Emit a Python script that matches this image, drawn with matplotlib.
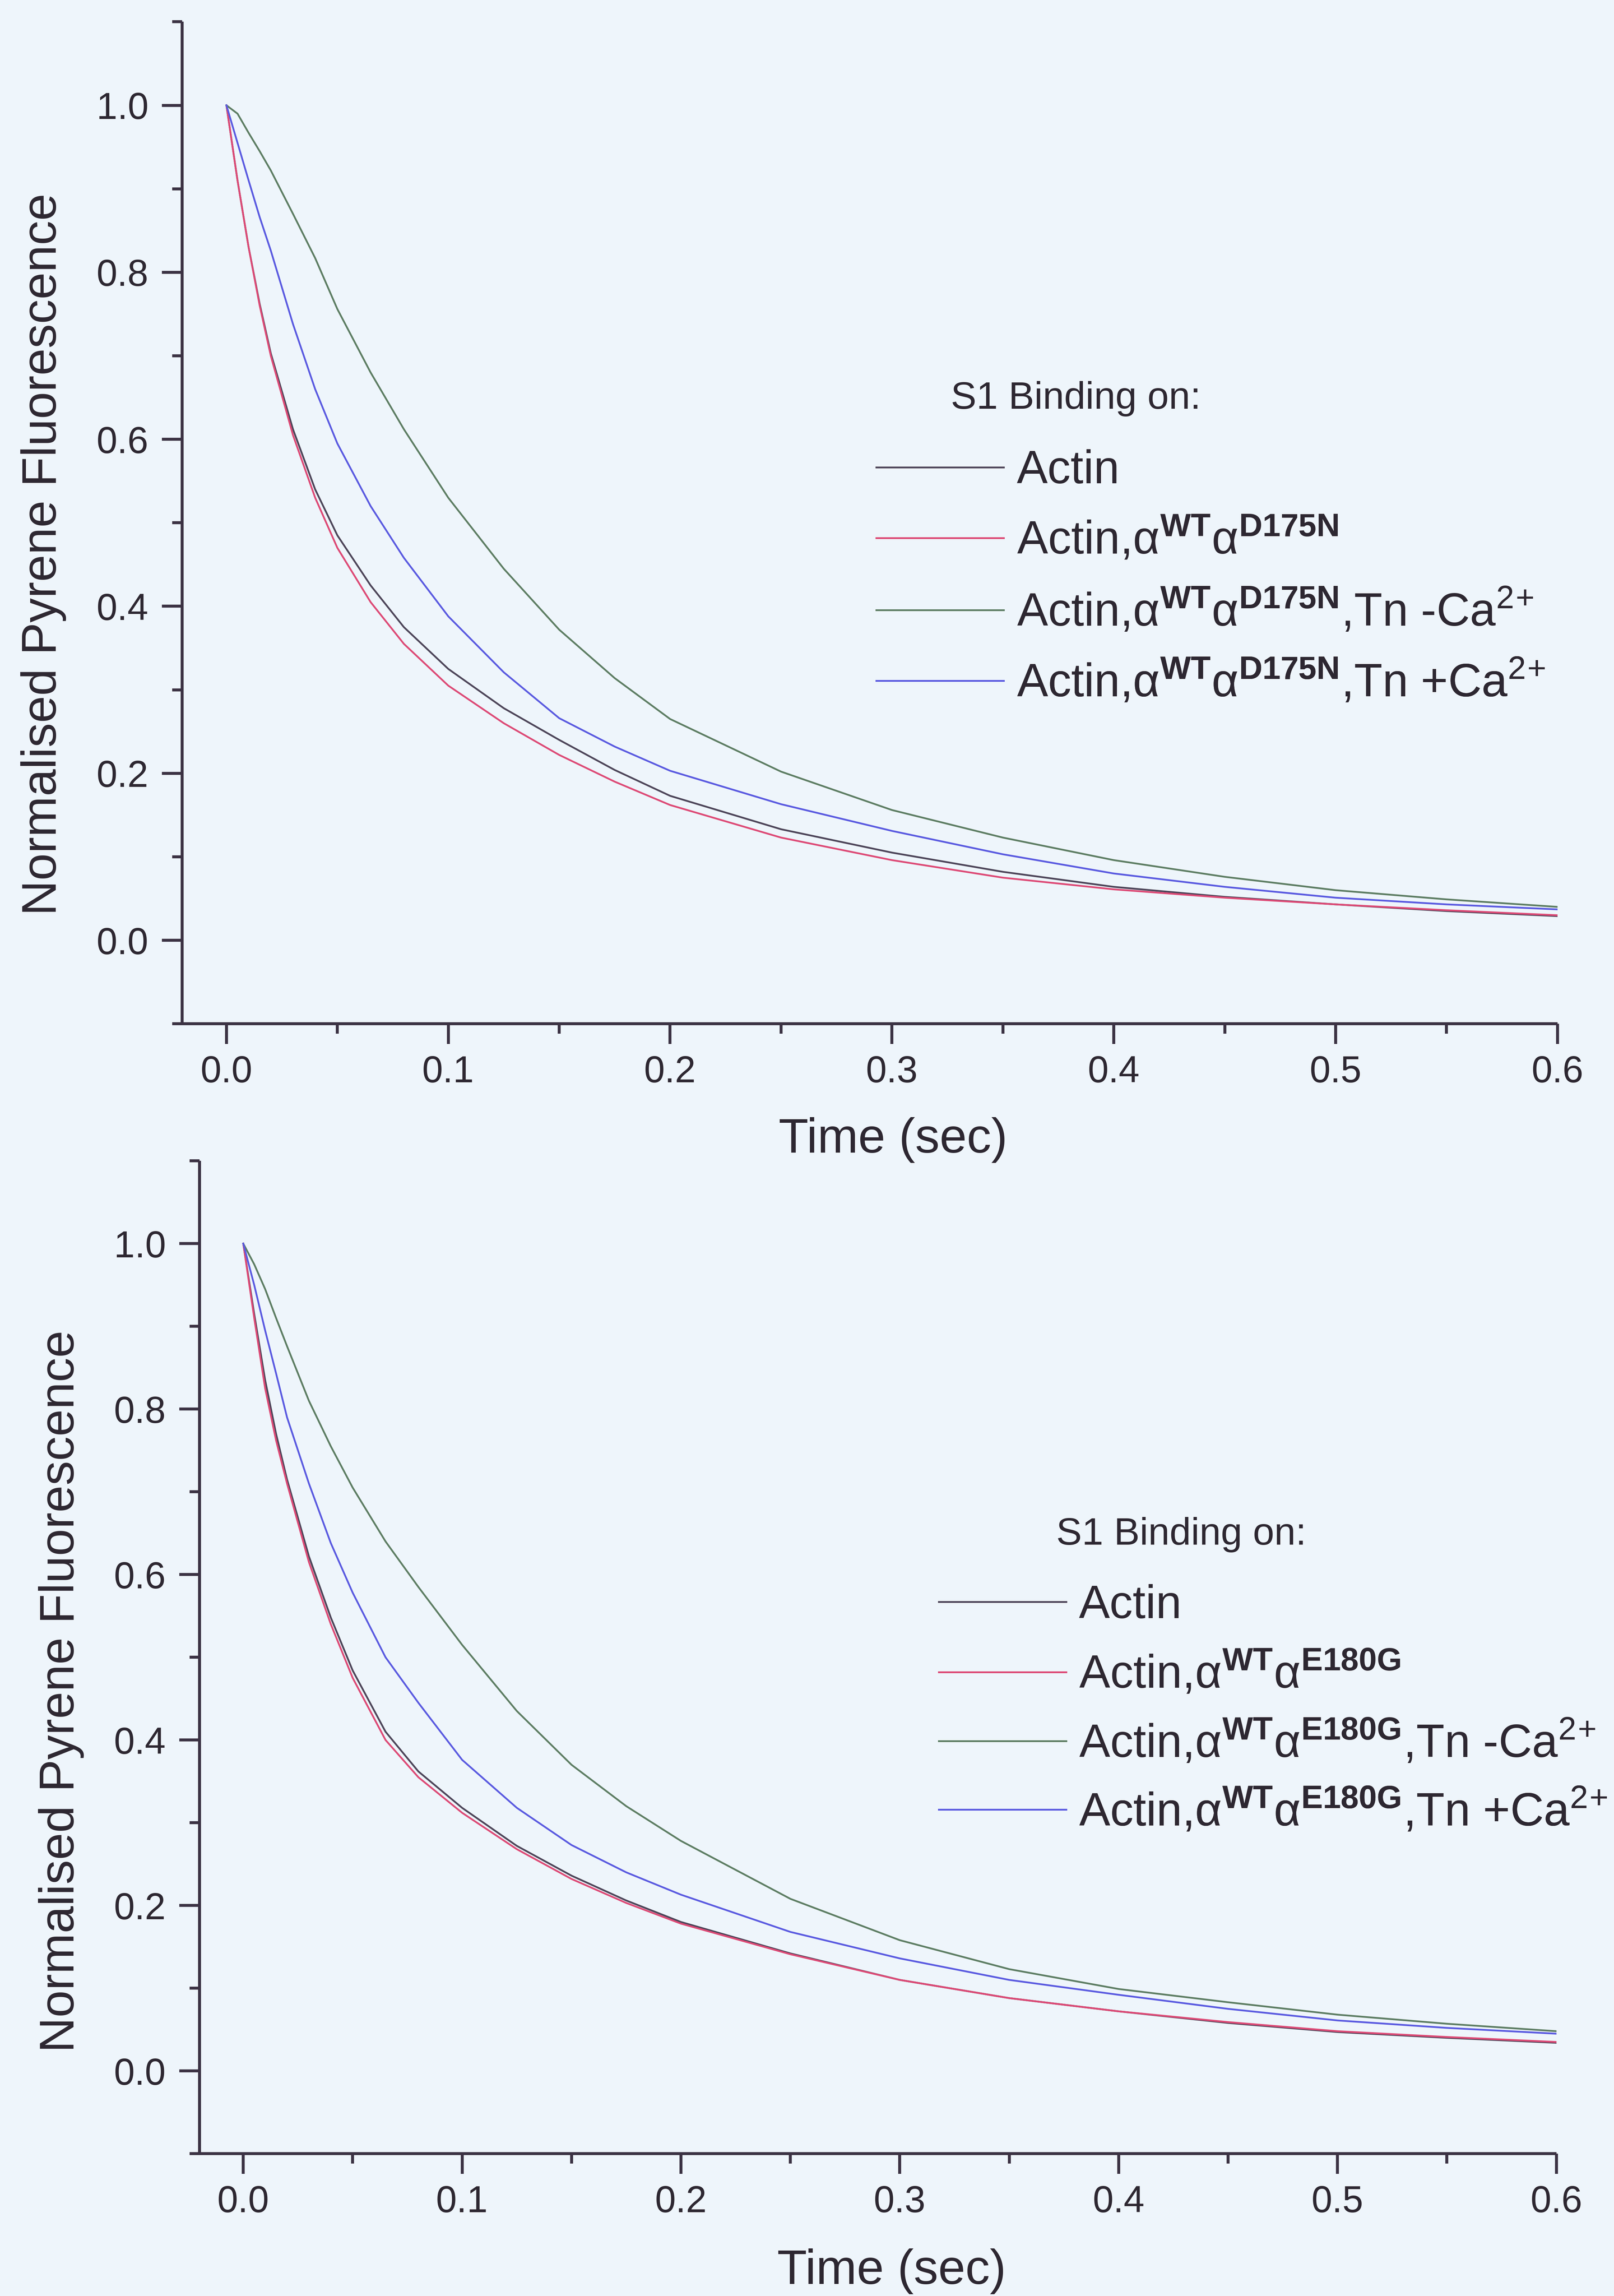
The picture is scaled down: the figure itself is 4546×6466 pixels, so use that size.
import matplotlib
matplotlib.use("Agg")
import matplotlib.pyplot as plt
from matplotlib.ticker import MultipleLocator, FormatStrFormatter

plt.rcParams.update({
    "font.family": ["Liberation Sans", "DejaVu Sans"],
    "mathtext.fontset": "custom",
    "mathtext.rm": "Liberation Sans",
    "mathtext.it": "Liberation Sans:italic",
    "mathtext.bf": "Liberation Sans:bold",
    "mathtext.default": "regular",
})

# ---------------------------------------------------------------- data
time_s = [0.0, 0.005, 0.01, 0.015, 0.02, 0.03, 0.04, 0.05, 0.065, 0.08,
          0.1, 0.125, 0.15, 0.175, 0.2, 0.25, 0.3, 0.35, 0.4, 0.45,
          0.5, 0.55, 0.6]

# Upper panel: D175N
d175n_actin = [1.0, 0.91, 0.83, 0.762, 0.703, 0.612, 0.54, 0.485, 0.425, 0.375,
               0.325, 0.278, 0.24, 0.204, 0.173, 0.133, 0.105, 0.082, 0.064, 0.052,
               0.043, 0.035, 0.029]
d175n_tm = [1.0, 0.91, 0.83, 0.76, 0.70, 0.605, 0.53, 0.47, 0.405, 0.355,
            0.305, 0.26, 0.222, 0.19, 0.162, 0.123, 0.096, 0.075, 0.061, 0.051,
            0.043, 0.036, 0.030]
d175n_tn_noca = [1.0, 0.99, 0.967, 0.945, 0.922, 0.87, 0.817, 0.756, 0.68, 0.612,
                 0.53, 0.445, 0.372, 0.314, 0.265, 0.202, 0.156, 0.123, 0.096, 0.076,
                 0.06, 0.049, 0.04]
d175n_tn_ca = [1.0, 0.955, 0.91, 0.866, 0.826, 0.738, 0.66, 0.595, 0.52, 0.458,
               0.388, 0.321, 0.266, 0.232, 0.203, 0.163, 0.131, 0.103, 0.080, 0.064,
               0.051, 0.043, 0.037]

# Lower panel: E180G
e180g_actin = [1.0, 0.915, 0.835, 0.77, 0.715, 0.622, 0.548, 0.484, 0.41, 0.362,
               0.318, 0.272, 0.236, 0.206, 0.18, 0.142, 0.11, 0.088, 0.072, 0.058,
               0.047, 0.04, 0.034]
e180g_tm = [1.0, 0.91, 0.825, 0.762, 0.71, 0.615, 0.54, 0.475, 0.40, 0.355,
            0.312, 0.268, 0.232, 0.203, 0.178, 0.141, 0.11, 0.088, 0.072, 0.059,
            0.048, 0.041, 0.035]
e180g_tn_noca = [1.0, 0.975, 0.945, 0.91, 0.876, 0.81, 0.755, 0.705, 0.64, 0.585,
                 0.515, 0.435, 0.37, 0.32, 0.278, 0.208, 0.158, 0.123, 0.099, 0.083,
                 0.068, 0.057, 0.048]
e180g_tn_ca = [1.0, 0.95, 0.895, 0.843, 0.79, 0.71, 0.638, 0.578, 0.5, 0.445,
               0.376, 0.318, 0.273, 0.24, 0.213, 0.168, 0.136, 0.11, 0.092, 0.075,
               0.061, 0.052, 0.045]

# "2" and "+" are set as separate superscripts so the plus sign is not spaced
# like a binary operator
labels_d175n = [
    "Actin",
    r"Actin,α$^{\mathbf{WT}}$α$^{\mathbf{D175N}}$",
    r"Actin,α$^{\mathbf{WT}}$α$^{\mathbf{D175N}}$,Tn -Ca$^{2}$$^{+}$",
    r"Actin,α$^{\mathbf{WT}}$α$^{\mathbf{D175N}}$,Tn +Ca$^{2}$$^{+}$",
]
labels_e180g = [
    "Actin",
    r"Actin,α$^{\mathbf{WT}}$α$^{\mathbf{E180G}}$",
    r"Actin,α$^{\mathbf{WT}}$α$^{\mathbf{E180G}}$,Tn -Ca$^{2}$$^{+}$",
    r"Actin,α$^{\mathbf{WT}}$α$^{\mathbf{E180G}}$,Tn +Ca$^{2}$$^{+}$",
]

x_ticks = [0.0, 0.1, 0.2, 0.3, 0.4, 0.5, 0.6]
y_ticks = [0.0, 0.2, 0.4, 0.6, 0.8, 1.0]

# ---------------------------------------------------------------- style
BG = "#eef5fb"
INK = "#3b3243"
TEXT = "#2d2731"
COLORS = ["#4d4559", "#dd4a76", "#5d7d63", "#5a5ae0"]

LINE_W = 3.6
AXIS_W = 6.0
TICK_FS = 76
LABEL_FS = 99
LEGEND_FS = 94
TITLE_FS = 78


def draw_panel(ax, series, labels, legend_x, legend_rows, title_xy,
               xlabel_xy, ylabel_xy):
    lines = []
    for values, color, label in zip(series, COLORS, labels):
        line, = ax.plot(time_s, values, color=color, lw=LINE_W, label=label,
                        solid_joinstyle="round")
        lines.append(line)

    ax.set_xlim(-0.02, 0.6)
    ax.set_ylim(-0.1, 1.1)
    ax.set_xticks(x_ticks)
    ax.set_yticks(y_ticks)
    ax.xaxis.set_minor_locator(MultipleLocator(0.05))
    ax.yaxis.set_minor_locator(MultipleLocator(0.1))
    ax.xaxis.set_major_formatter(FormatStrFormatter("%.1f"))
    ax.yaxis.set_major_formatter(FormatStrFormatter("%.1f"))

    for side in ("top", "right"):
        ax.spines[side].set_visible(False)
    for side in ("left", "bottom"):
        ax.spines[side].set_linewidth(AXIS_W)
        ax.spines[side].set_color(INK)
        ax.spines[side].set_capstyle("butt")

    ax.tick_params(which="major", direction="out", length=41, width=AXIS_W,
                   color=INK, labelsize=TICK_FS, labelcolor=TEXT)
    ax.tick_params(which="minor", direction="out", length=20, width=AXIS_W,
                   color=INK)
    ax.tick_params(axis="x", which="major", pad=22)
    ax.tick_params(axis="y", which="major", pad=27)
    ax.set_facecolor("none")

    ax.set_xlabel("Time (sec)", fontsize=LABEL_FS, color=TEXT)
    ax.set_ylabel("Normalised Pyrene Fluorescence", fontsize=LABEL_FS, color=TEXT)
    ax.xaxis.set_label_coords(*xlabel_xy)
    ax.yaxis.set_label_coords(*ylabel_xy)

    # one legend per entry keeps the row pitch even despite the superscripts
    for line, label, row_y in zip(lines, labels, legend_rows):
        leg = ax.legend(handles=[line], labels=[label], loc="lower left",
                        bbox_to_anchor=(legend_x, row_y), frameon=False,
                        fontsize=LEGEND_FS, handlelength=2.75,
                        handletextpad=0.28, borderpad=0, borderaxespad=0)
        for txt in leg.get_texts():
            txt.set_color(TEXT)
        ax.add_artist(leg)

    ax.text(title_xy[0], title_xy[1], "S1 Binding on:", transform=ax.transAxes,
            fontsize=TITLE_FS, color=TEXT, ha="left", va="baseline")


fig = plt.figure(figsize=(45.46, 64.66), dpi=100, facecolor=BG)

ax_top = fig.add_axes([0.1128, 0.5541, 0.8522, 0.4364])
draw_panel(ax_top,
           [d175n_actin, d175n_tm, d175n_tn_noca, d175n_tn_ca],
           labels_d175n,
           legend_x=0.5047,
           legend_rows=[0.5298, 0.4592, 0.3873, 0.3168],
           title_xy=(0.559, 0.6138),
           xlabel_xy=(0.517, -0.093),
           ylabel_xy=(-0.084, 0.4685))

ax_bot = fig.add_axes([0.1236, 0.0620, 0.8407, 0.4324])
draw_panel(ax_bot,
           [e180g_actin, e180g_tm, e180g_tn_noca, e180g_tn_ca],
           labels_e180g,
           legend_x=0.5447,
           legend_rows=[0.5297, 0.4592, 0.3895, 0.3205],
           title_xy=(0.6313, 0.6134),
           xlabel_xy=(0.51, -0.0955),
           ylabel_xy=(-0.085, 0.4657))

fig.savefig("out.png", dpi=100, facecolor=BG)
